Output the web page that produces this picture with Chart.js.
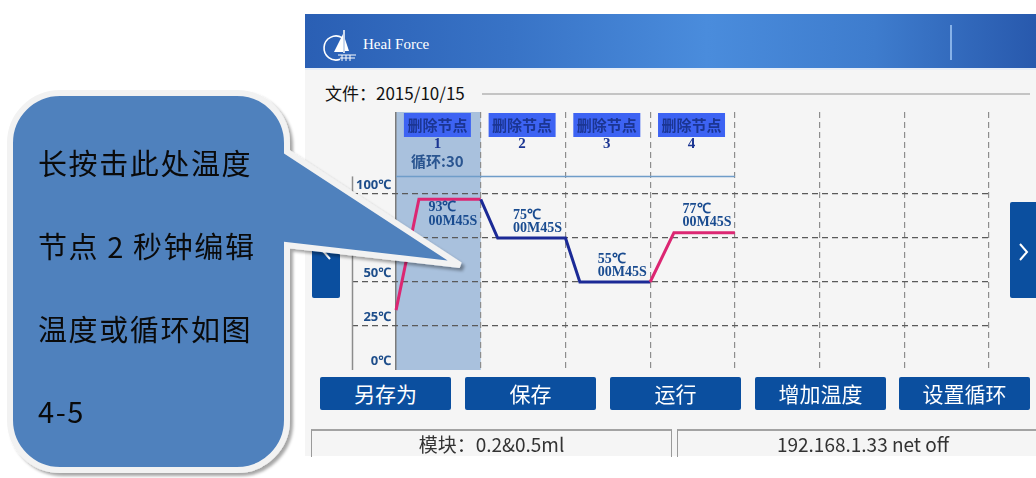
<!DOCTYPE html>
<html>
<head>
<meta charset="utf-8">
<script src="https://cdn.jsdelivr.net/npm/chart.js@4.4.0/dist/chart.umd.min.js"></script>
<style>
  html, body { margin: 0; padding: 0; background: #fff; width: 1036px; height: 478px; overflow: hidden; }
  body { font-family: "Noto Sans CJK SC", sans-serif; }
  .abs { position: absolute; }
  #panel { left: 305px; top: 14px; width: 731px; height: 442px; background: #f5f5f5; }
  #hdr { left: 305px; top: 14px; width: 731px; height: 54px;
    background: linear-gradient(90deg, #2a5fb4 0%, #3873c6 28%, #4a8cdc 55%, #3e7ccd 78%, #2859ad 100%);
    border-bottom: 2px solid #e6edf7; }
  #hdrDiv { left: 950px; top: 25px; width: 2px; height: 35px; background: rgba(150, 190, 240, 0.85); }
  #brand { left: 363px; top: 36px; line-height: 20px; font: 15px "Liberation Serif", serif; color: #fff; }
  #file { left: 325px; top: 81px; line-height: 24px; font-size: 17px; color: #111; }
  #rule { left: 482px; top: 93px; width: 548px; height: 2px; background: #c4c4c4; }
  #pcr { left: 305px; top: 105px; }
  .nav { width: 28px; height: 96px; top: 202px; background: #0b4f9f; border-radius: 2px; }
  .btn { top: 377px; width: 131px; height: 33px; line-height: 33px; background: #0b4f9f; color: #fff;
    font-size: 21px; text-align: center; border-radius: 2px; }
  .stat { top: 429px; height: 26px; line-height: 26px; border-top: 2px solid #a3a3a3;
    border-left: 1.5px solid #9a9a9a; border-right: 1.5px solid #9a9a9a; font-size: 19px; color: #333; text-align: center; }
  #callout { left: 0; top: 0; }
  .say { left: 38px; line-height: 40px; font-size: 29px; letter-spacing: 1.6px; color: #0a0a0a; white-space: nowrap; }
</style>
</head>
<body>
<div id="panel" class="abs"></div>
<div id="hdr" class="abs"></div>
<svg class="abs" style="left:318px;top:24px" width="40" height="40">
  <path d="M24 13.6 A12 12 0 1 0 22.1 35.3" stroke="#fff" stroke-width="1.6" fill="none"/>
  <line x1="26" y1="6" x2="26" y2="29" stroke="#fff" stroke-width="1.5"/>
  <polygon points="25,10 25,28 16,28" fill="#fff"/>
  <polygon points="27,15 27,27 31,27" fill="#fff"/>
  <path d="M20 31 H38 M22 34 H37 M24 31 V37 M28 31 V37 M32 31 V37" stroke="#fff" stroke-width="1"/>
</svg>
<div id="brand" class="abs">Heal Force</div>
<div id="hdrDiv" class="abs"></div>
<div id="file" class="abs">文件：2015/10/15</div>
<div id="rule" class="abs"></div>

<canvas id="pcr" class="abs" width="731" height="270"></canvas>

<div class="nav abs" style="left:312px"></div>
<div class="nav abs" style="left:1010px"></div>
<svg class="abs" style="left:0;top:0" width="1036" height="478">
  <polyline points="330,243 323,251 330,259" stroke="#fff" stroke-width="2" fill="none"/>
  <polyline points="1020,244 1027,252 1020,260" stroke="#fff" stroke-width="2" fill="none"/>
</svg>

<div class="btn abs" style="left:320px">另存为</div>
<div class="btn abs" style="left:465px">保存</div>
<div class="btn abs" style="left:610px">运行</div>
<div class="btn abs" style="left:755px">增加温度</div>
<div class="btn abs" style="left:899px">设置循环</div>

<div class="stat abs" style="left:311px;width:359px">模块：0.2&amp;0.5ml</div>
<div class="stat abs" style="left:677px;width:370px">192.168.1.33 net off</div>

<svg id="callout" class="abs" width="1036" height="478">
  <defs>
    <filter id="sh" x="-10%" y="-10%" width="130%" height="130%">
      <feDropShadow dx="3" dy="3" stdDeviation="1.5" flood-color="#000" flood-opacity="0.35"/>
    </filter>
  </defs>
  <path d="M60 93 H237 A50 50 0 0 1 287 143 V152 L460 265 L287 245 V420 A50 50 0 0 1 237 470 H60 A50 50 0 0 1 10 420 V143 A50 50 0 0 1 60 93 Z"
        fill="#4f81bd" stroke="#f2f2f2" stroke-width="6" stroke-linejoin="miter" filter="url(#sh)"/>
</svg>
<div class="say abs" style="top:142px">长按击此处温度</div>
<div class="say abs" style="top:225px">节点 2 秒钟编辑</div>
<div class="say abs" style="top:308px">温度或循环如图</div>
<div class="say abs" style="top:390px">4-5</div>

<script>
// program steps
const stepNames = ['1', '2', '3', '4'];
const stepTemps = [93, 75, 55, 77];
const stepTimes = ['00M45S', '00M45S', '00M45S', '00M45S'];
const cycleStep = 0;
const cycleCount = 30;
const nodeButtonText = '删除节点';

// temperature profile as drawn (x in step slots, y in deg C)
const curveX = [0, 0.27, 1, 1.2, 2, 2.17, 3, 3.28, 4];
const curveY = [34, 97, 97, 75, 75, 50, 50, 78, 78];
const lidTemp = 110;

// axes
const tempTicks = [0, 25, 50, 75, 100];
const slotTicks = [0, 1, 2, 3, 4, 5, 6, 7];

const HEAT = '#dc2672';
const COOL = '#1b2a96';

// heating steps pink, cooling steps blue
function stepColor(p1Index) {
  const k = Math.floor((p1Index - 1) / 2);
  const prev = k === 0 ? curveY[0] : stepTemps[k - 1];
  return stepTemps[k] > prev ? HEAT : COOL;
}

// axes take no room, the layout padding alone places the plot
function noRoom(s) {
  if (s.isHorizontal()) s.height = 0; else s.width = 0;
  s.paddingLeft = s.paddingRight = s.paddingTop = s.paddingBottom = 0;
}

const stepDecor = {
  id: 'stepDecor',
  beforeDraw(chart) {
    const { ctx, chartArea: a, scales: { x } } = chart;
    const l = x.getPixelForValue(cycleStep), r = x.getPixelForValue(cycleStep + 1);
    ctx.save();
    ctx.fillStyle = '#a9c1dd';
    ctx.fillRect(l, a.top, r - l, a.bottom - a.top);
    ctx.restore();
  },
  beforeDatasetsDraw(chart) {
    const { ctx, scales: { x, y } } = chart;
    ctx.save();
    ctx.strokeStyle = '#8c8c8c';
    ctx.lineWidth = 1.5;
    ctx.beginPath();
    ctx.moveTo(x.left + 0.5, y.getPixelForValue(lidTemp));
    ctx.lineTo(x.left + 0.5, y.bottom);
    ctx.stroke();
    ctx.restore();
  },
  afterDatasetsDraw(chart) {
    const { ctx, chartArea: a, scales: { x, y } } = chart;
    const lidY = y.getPixelForValue(lidTemp);
    ctx.save();
    ctx.textBaseline = 'middle';
    stepNames.forEach((name, k) => {
      const cx = x.getPixelForValue(k + 0.5) - 1;
      ctx.fillStyle = '#3d63f3';
      ctx.fillRect(cx - 33.5, a.top + 1, 67, 24);
      ctx.textAlign = 'center';
      ctx.fillStyle = '#1b3592';
      ctx.font = 'bold 15px "Noto Sans CJK SC"';
      ctx.fillText(nodeButtonText, cx, a.top + 13);
      ctx.font = 'bold 15px "Liberation Serif"';
      ctx.fillText(name, cx, a.top + 32);
      if (k === cycleStep) {
        ctx.fillStyle = '#2a5590';
        ctx.font = 'bold 15px "Noto Sans CJK SC"';
        ctx.fillText('循环:' + cycleCount, cx, a.top + 49);
      }
      // set temperature and hold time
      const py = y.getPixelForValue(curveY[2 * k + 2]);
      const above = py - 32 > lidY;
      const lx = x.getPixelForValue(k + 0.5) - 10;
      ctx.textAlign = 'left';
      ctx.fillStyle = '#1a4c90';
      ctx.font = 'bold 14px "Liberation Serif"';
      ctx.fillText(stepTemps[k] + '℃', lx, above ? py - 23 : py + 8);
      ctx.fillText(stepTimes[k], lx, above ? py - 10 : py + 22);
    });
    ctx.restore();
  }
};

new Chart(document.getElementById('pcr'), {
  type: 'line',
  data: {
    datasets: [
      {
        data: [{ x: 0, y: lidTemp }, { x: stepNames.length, y: lidTemp }],
        borderColor: '#6f9dc9',
        borderWidth: 1.5,
        pointRadius: 0
      },
      {
        data: curveX.map((v, i) => ({ x: v, y: curveY[i] })),
        borderWidth: 3,
        borderColor: HEAT,
        segment: { borderColor: c => stepColor(c.p1DataIndex) },
        pointRadius: 0,
        tension: 0
      }
    ]
  },
  options: {
    responsive: false,
    animation: false,
    events: [],
    layout: { padding: { left: 47, right: 47, top: 7, bottom: 5 }, autoPadding: false },
    plugins: { legend: { display: false }, tooltip: { enabled: false } },
    scales: {
      x: {
        type: 'linear',
        min: -0.52,
        max: 7,
        afterBuildTicks: s => { s.ticks = slotTicks.map(v => ({ value: v })); },
        afterFit: noRoom,
        ticks: { display: false },
        grid: {
          drawTicks: false,
          color: c => c.tick && c.tick.value === 0 ? '#7b7b7b' : '#8d8d8d',
          lineWidth: c => c.tick && c.tick.value === 0 ? 1.5 : 1.2
        },
        border: { display: false, dash: c => c.tick && c.tick.value === 0 ? [] : [6, 4] }
      },
      y: {
        type: 'linear',
        min: 0,
        max: 146.6,
        afterBuildTicks: s => { s.ticks = tempTicks.map(v => ({ value: v })); },
        afterFit: noRoom,
        ticks: {
          mirror: true,
          crossAlign: 'far',
          padding: 4,
          labelOffset: -9,
          color: '#1d4d8a',
          font: { family: '"Noto Sans", "Noto Sans CJK SC"', size: 13, weight: 'bold' },
          callback: v => v + '℃'
        },
        grid: {
          drawTicks: false,
          color: c => c.tick && c.tick.value === 0 ? 'rgba(0,0,0,0)' : '#5a5a5a',
          lineWidth: 1.2
        },
        border: { display: false, dash: [6, 4] }
      }
    }
  },
  plugins: [stepDecor]
});
</script>
</body>
</html>
